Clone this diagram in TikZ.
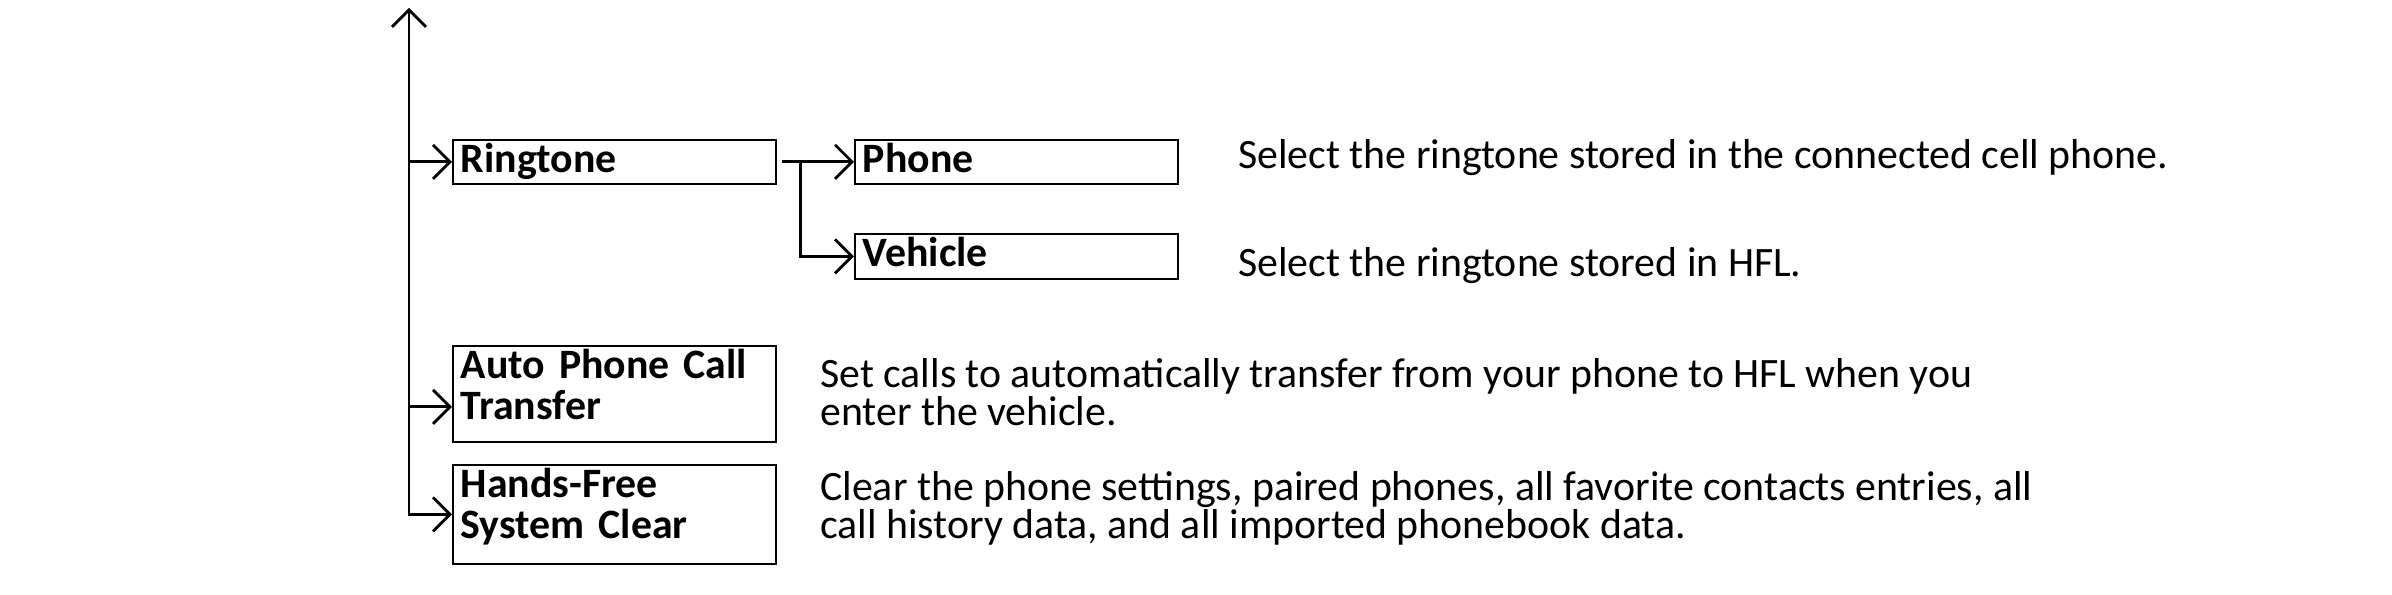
\documentclass[tikz,border=0pt]{standalone}
\usepackage{fontspec}
\setmainfont{Carlito}
\usetikzlibrary{arrows.meta,positioning}

\begin{document}
\begin{tikzpicture}[
  tip/.style={-{Straight Barb[length=1.7mm,width=3.4mm]}, line width=0.8pt},
  bitip/.style={{Straight Barb[length=1.7mm,width=3.4mm]}-{Straight Barb[length=1.7mm,width=3.4mm]}, line width=0.8pt},
  menubox/.style={draw, line width=0.45pt, anchor=north west, align=left, text width=3.07cm,
    inner xsep=0.08cm, inner ysep=0.03cm, text height=0.3cm, font=\bfseries\fontsize{11.9}{11.6}\selectfont},
  desc/.style={anchor=west, align=left, inner sep=0, font=\fontsize{11.9}{10.8}\selectfont}]
\useasboundingbox (0,0) rectangle (23.92,5.95);

% menu boxes
\node (ring)[menubox, text depth=0.08cm] at (4.52,4.56) {Ringtone};
\node (phone)[menubox, text depth=0.08cm] at (8.54,4.56) {Phone};
\node (vehicle)[menubox, text depth=0.09cm] at (8.54,3.62) {Vehicle};
\node (auto)[menubox, text depth=0.6cm] at (4.52,2.50) {Auto Phone Call\\Transfer};
\node (hands)[menubox, text depth=0.63cm] at (4.52,1.31) {Hands-Free\\System Clear};

% descriptions
\node (phonetxt)[desc] [right=0.59cm of phone, yshift=0.04cm] {Select the ringtone stored in the connected cell phone.};
\node (vehtxt)[desc] [right=0.59cm of vehicle, yshift=-0.095cm] {Select the ringtone stored in HFL.};
\node (autotxt)[desc] [right=0.43cm of auto, yshift=0.02cm] {Set calls to automatically transfer from your phone to HFL when you\\enter the vehicle.};
\node (handstxt)[desc] [right=0.43cm of hands, yshift=0.055cm] {Clear the phone settings, paired phones, all favorite contacts entries, all\\call history data, and all imported phonebook data.};

% connectors
\coordinate (top) at (4.09,5.87);
\draw[bitip] (top) |- (hands.west);
\draw[tip] (ring.west -| top) -- (ring.west);
\draw[tip] ([yshift=-0.13cm]auto.west -| top) -- ([yshift=-0.13cm]auto.west);
\draw[tip] ([xshift=0.05cm]ring.east) -- (phone.west);
\draw[tip] ([xshift=0.24cm]ring.east) |- (vehicle.west);
\end{tikzpicture}
\end{document}
